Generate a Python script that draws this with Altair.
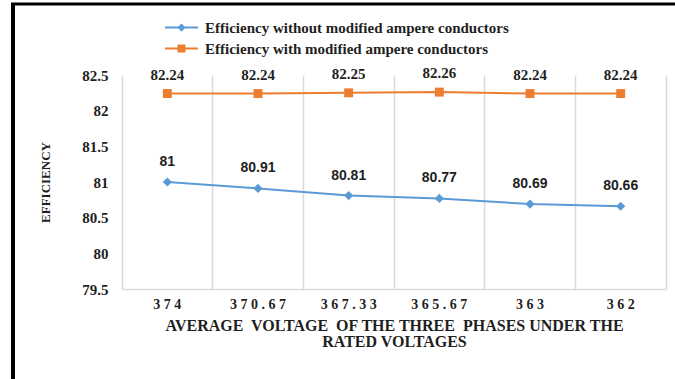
import altair as alt
import pandas as pd

# Average voltage of the three phases (category axis, in display order)
voltages = ["374", "370.67", "367.33", "365.67", "363", "362"]

series_without = "Efficiency without modified ampere conductors"
series_with = "Efficiency with modified ampere conductors"

eff_without = [81, 80.91, 80.81, 80.77, 80.69, 80.66]
eff_with = [82.24, 82.24, 82.25, 82.26, 82.24, 82.24]

y_ticks = [79.5, 80, 80.5, 81, 81.5, 82, 82.5]

BLUE = "#5B9BD5"
ORANGE = "#ED7D31"
GRID = "#d9d9d9"
INK = "#1f1f1f"
SERIF = "Liberation Serif"
SANS = "Liberation Sans"

df = pd.DataFrame(
    {
        "voltage": voltages * 2,
        "series": [series_without] * len(voltages) + [series_with] * len(voltages),
        "value": eff_without + eff_with,
    }
)

W, H = 544, 214

x_enc = alt.X(
    "voltage:N",
    sort=voltages,
    scale=alt.Scale(type="band", paddingInner=0, paddingOuter=0),
    bandPosition=0.5,
    axis=alt.Axis(
        bandPosition=0,
        grid=True,
        gridColor=GRID,
        gridWidth=1.5,
        ticks=False,
        domain=True,
        domainColor=GRID,
        domainWidth=1.5,
        labelAngle=0,
        # spaced-out digits on the category labels
        labelExpr="join(split(datum.label, ''), ' ')",
        labelFont=SERIF,
        labelFontWeight="bold",
        labelFontSize=14,
        labelColor=INK,
        labelPadding=8,
        title=[
            "AVERAGE\u00a0 VOLTAGE\u00a0 OF THE THREE\u00a0 PHASES UNDER THE",
            "RATED VOLTAGES",
        ],
        titleFont=SERIF,
        titleFontWeight="bold",
        titleFontSize=16,
        titleColor=INK,
        titleLineHeight=16,
        titleBaseline="top",
        titleAlign="center",
        titleX=W / 2,
        titleY=28,
    ),
)

y_scale = alt.Scale(domain=[79.5, 82.5], nice=False, zero=False)

color_enc = alt.Color(
    "series:N",
    scale=alt.Scale(domain=[series_without, series_with], range=[BLUE, ORANGE]),
    legend=None,
)

# Legend symbols: a short line with the series marker on it
path_diamond = "M-1,-0.06L1,-0.06L1,0.06L-1,0.06Z M0,-0.25L0.25,0L0,0.25L-0.25,0Z"
path_square = "M-1,-0.06L1,-0.06L1,0.06L-1,0.06Z M-0.24,-0.24L0.24,-0.24L0.24,0.24L-0.24,0.24Z"


def legend_for(symbol_path, top):
    return alt.Legend(
        title=None,
        orient="none",
        legendX=43,
        legendY=top,
        direction="vertical",
        padding=0,
        symbolType=symbol_path,
        symbolSize=1089,
        symbolStrokeWidth=0,
        symbolOpacity=1,
        clipHeight=21,
        labelOffset=7,
        labelFont=SERIF,
        labelFontWeight="bold",
        labelFontSize=15,
        labelColor=INK,
        labelLimit=500,
    )


lines = (
    alt.Chart(df)
    .mark_line(strokeWidth=2)
    .encode(
        x=x_enc,
        y=alt.Y(
            "value:Q",
            scale=y_scale,
            axis=alt.Axis(
                values=y_ticks,
                format=".1~f",
                grid=False,
                domain=False,
                ticks=False,
                labelFont=SERIF,
                labelFontWeight="bold",
                labelFontSize=15,
                labelColor=INK,
                labelPadding=14,
                title="EFFICIENCY",
                titleFont=SERIF,
                titleFontWeight="bold",
                titleFontSize=13,
                titleColor=INK,
                titleAngle=270,
                titleAlign="center",
                titleBaseline="middle",
                titleX=-77,
                titleY=H / 2,
            ),
        ),
        color=color_enc,
        detail="series:N",
    )
)

points_without = (
    alt.Chart(df)
    .transform_filter(alt.datum.series == series_without)
    .mark_point(filled=True, opacity=1, size=85, shape="diamond")
    .encode(
        x=x_enc,
        y=alt.Y(
            "value:Q",
            scale=y_scale,
            axis=alt.Axis(
                orient="right",
                labels=False,
                ticks=False,
                grid=False,
                domain=True,
                domainColor=GRID,
                domainWidth=1.5,
                title=None,
            ),
        ),
        color=alt.Color(
            "series:N",
            scale=alt.Scale(domain=[series_without], range=[BLUE]),
            legend=legend_for(path_diamond, -58),
        ),
    )
)

points_with = (
    alt.Chart(df)
    .transform_filter(alt.datum.series == series_with)
    .mark_point(filled=True, opacity=1, size=80, shape="square")
    .encode(
        x=x_enc,
        y=alt.Y("value:Q", scale=y_scale, axis=None),
        color=alt.Color(
            "series:N",
            scale=alt.Scale(domain=[series_with], range=[ORANGE]),
            legend=legend_for(path_square, -37),
        ),
    )
)

labels_without = (
    alt.Chart(df)
    .transform_filter(alt.datum.series == series_without)
    .mark_text(font=SANS, fontWeight="bold", fontSize=14, color=INK, dy=-20)
    .encode(
        x=x_enc,
        y=alt.Y("value:Q", scale=y_scale, axis=None),
        text=alt.Text("value:Q", format=".2~f"),
    )
)

labels_with = (
    alt.Chart(df)
    .transform_filter(alt.datum.series == series_with)
    .mark_text(font=SERIF, fontWeight="bold", fontSize=15, color=INK, dy=-19)
    .encode(
        x=x_enc,
        y=alt.Y("value:Q", scale=y_scale, axis=None),
        text=alt.Text("value:Q", format=".2~f"),
    )
)

# Black frame along the left and top of the figure
frame_src = pd.DataFrame({"k": [0]})
frame_left = (
    alt.Chart(frame_src)
    .mark_rule(color="black", strokeWidth=4)
    .encode(x=alt.value(-109), y=alt.value(-71), y2=alt.value(304))
)
frame_top = (
    alt.Chart(frame_src)
    .mark_rule(color="black", strokeWidth=3)
    .encode(x=alt.value(-111), x2=alt.value(553), y=alt.value(-71))
)

chart = (
    alt.layer(
        lines, points_without, points_with, labels_without, labels_with, frame_left, frame_top
    )
    .resolve_axis(y="independent")
    .resolve_scale(color="independent")
    .properties(
        width=W,
        height=H,
        autosize=alt.AutoSizeParams(type="none"),
        padding={"left": 122, "top": 75, "right": 9, "bottom": 90},
        background="white",
    )
    .configure_view(stroke=None)
)

chart.save("out.html", embed_options={"renderer": "svg", "actions": False})
